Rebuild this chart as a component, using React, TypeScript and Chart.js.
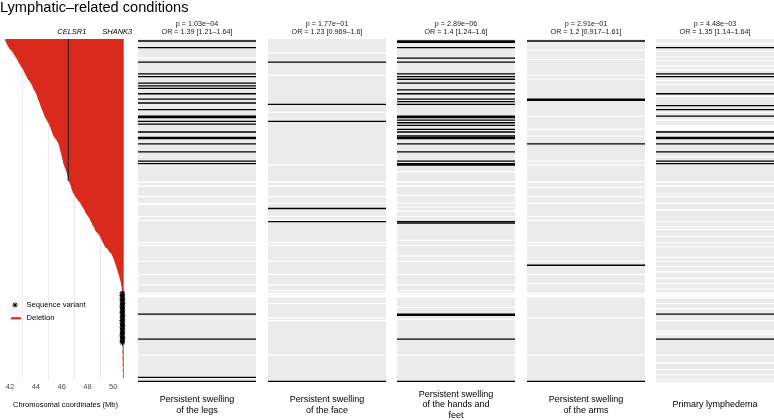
import React, { useEffect, useRef } from 'react';
import { Chart, registerables } from 'chart.js';
Chart.register(...registerables);

const FONT = '"Liberation Sans", Arial, Helvetica, sans-serif';
Chart.defaults.font.family = FONT;

// ---------- data ----------
const N_ROWS = 260;

// Terminal 22q13 deletions (start, Mb), sorted by size; all extend to chromosome end
const DELETION_START = [
  41.62, 41.66, 41.70, 41.74, 41.80, 41.86, 41.92, 41.98, 42.10, 42.18,
  42.26, 42.30, 42.36, 42.43, 42.50, 42.55, 42.62, 42.66, 42.72, 42.78,
  42.85, 42.92, 42.98, 43.03, 43.07, 43.12, 43.18, 43.22, 43.28, 43.33,
  43.40, 43.46, 43.55, 43.62, 43.68, 43.72, 43.76, 43.80, 43.86, 43.92,
  43.98, 44.03, 44.07, 44.10, 44.12, 44.16, 44.21, 44.25, 44.29, 44.32,
  44.36, 44.40, 44.43, 44.46, 44.52, 44.56, 44.60, 44.63, 44.67, 44.71,
  44.78, 44.85, 44.90, 44.96, 45.01, 45.05, 45.10, 45.13, 45.16, 45.20,
  45.24, 45.28, 45.32, 45.36, 45.42, 45.50, 45.58, 45.64, 45.70, 45.75,
  45.78, 45.81, 45.83, 45.86, 45.88, 45.91, 45.94, 45.97, 45.99, 46.02,
  46.04, 46.06, 46.09, 46.11, 46.13, 46.16, 46.20, 46.24, 46.28, 46.32,
  46.36, 46.39, 46.41, 46.44, 46.46, 46.48, 46.50, 46.52, 46.56, 46.62,
  46.66, 46.70, 46.73, 46.76, 46.78, 46.82, 46.86, 46.92, 46.98, 47.04,
  47.10, 47.18, 47.26, 47.33, 47.43, 47.49, 47.55, 47.60, 47.66, 47.74,
  47.78, 47.81, 47.87, 47.94, 48.02, 48.09, 48.15, 48.20, 48.25, 48.30,
  48.35, 48.40, 48.46, 48.52, 48.56, 48.59, 48.66, 48.76, 48.86, 48.92,
  48.98, 49.03, 49.08, 49.13, 49.18, 49.23, 49.28, 49.33, 49.40, 49.52,
  49.60, 49.68, 49.76, 49.84, 49.90, 49.95, 49.99, 50.03, 50.07, 50.11,
  50.14, 50.17, 50.20, 50.24, 50.27, 50.30, 50.33, 50.37, 50.40, 50.43,
  50.46, 50.49, 50.51, 50.54, 50.56, 50.58, 50.60, 50.62, 50.64, 50.66,
  50.68, 50.69, 50.70,
];
// Sequence variants (position, Mb)
const VARIANT_POS = [
  50.70, 50.72, 50.68, 50.71, 50.73, 50.69, 50.72, 50.70, 50.74, 50.71,
  50.68, 50.72, 50.70, 50.73, 50.71, 50.69, 50.72, 50.74, 50.70, 50.71,
  50.73, 50.68, 50.72, 50.70, 50.71, 50.74, 50.69, 50.72, 50.70, 50.73,
  50.71, 50.72, 50.68, 50.70, 50.73, 50.71, 50.72, 50.69, 50.71,
];
// Small terminal deletions (start, Mb)
const SMALL_DELETION_START = [
  50.70, 50.72, 50.71, 50.73, 50.74, 50.72, 50.70, 50.73, 50.75, 50.74,
  50.72, 50.71, 50.73, 50.74, 50.75, 50.73, 50.72, 50.74, 50.76, 50.75,
  50.73, 50.74, 50.75, 50.76, 50.74, 50.75, 50.76, 50.77,
];
const CHROM_END = 50.81;
const CELSR1_MB = 46.52;
const SHANK3_MB = 50.70;
const X_TICKS = [42, 43, 44, 45, 46, 47, 48, 49, 50];
const X_TICK_LABELS = [42, 44, 46, 48, 50];

const CONDITION_LABELS = [
  ['Persistent swelling', 'of the legs'],
  ['Persistent swelling', 'of the face'],
  ['Persistent swelling', 'of the hands and', 'feet'],
  ['Persistent swelling', 'of the arms'],
  ['Primary lymphedema'],
];
const P_VALUES = ['1.03e\u221204', '1.77e\u221201', '2.89e\u221206', '2.91e\u221201', '4.48e\u221203'];
const ODDS_RATIOS = ['1.39 [1.21\u20131.64]', '1.23 [0.969\u20131.6]', '1.4 [1.24\u20131.6]', '1.2 [0.917\u20131.61]', '1.35 [1.14\u20131.64]'];

// patient rows (0 = top) with the condition present
const AFFECTED_LEGS = [1, 6, 17, 26, 28, 33, 35, 37, 41, 45, 48, 53, 58, 59, 62, 64, 70, 74, 75, 79, 85, 92, 94, 208, 227, 256, 259];
const AFFECTED_FACE = [17, 49, 62, 128, 138, 259];
const AFFECTED_HANDS_FEET = [1, 2, 6, 14, 17, 26, 28, 30, 33, 38, 41, 45, 47, 49, 58, 59, 61, 63, 65, 68, 70, 73, 74, 75, 79, 85, 92, 94, 95, 138, 139, 208, 209, 227, 259];
const AFFECTED_ARMS = [1, 45, 46, 79, 171, 259];
const AFFECTED_PRIMARY = [6, 26, 28, 41, 50, 53, 58, 70, 74, 75, 79, 85, 92, 94, 208, 227];

// patient rows with missing information
const MISSING_LEGS = [14, 95, 108, 111, 119, 124, 125, 134, 137, 154, 156, 168, 178, 186, 192, 193, 194, 195, 211, 239];
const MISSING_FACE = [10, 27, 55, 95, 108, 111, 119, 124, 134, 137, 154, 156, 168, 178, 186, 190, 192, 193, 194, 195, 200, 211, 213, 239];
const MISSING_HANDS_FEET = [100, 108, 111, 118, 124, 127, 130, 134, 152, 156, 164, 168, 178, 186, 190, 192, 193, 194, 195, 203, 212, 239];
const MISSING_ARMS = [8, 15, 27, 30, 58, 68, 73, 92, 95, 108, 112, 119, 124, 134, 137, 154, 156, 168, 178, 185, 192, 193, 194, 195, 211, 239];
const MISSING_PRIMARY = [3, 9, 13, 16, 20, 23, 31, 34, 43, 55, 61, 65, 66, 67, 68, 89, 108, 111, 117, 119, 124, 129, 138, 142, 144, 149, 154, 157, 165, 168, 172, 176, 181, 185, 189, 192, 193, 194, 195, 196, 200, 204, 213, 221, 223, 239, 245, 250, 254, 258];

const AFFECTED = [AFFECTED_LEGS, AFFECTED_FACE, AFFECTED_HANDS_FEET, AFFECTED_ARMS, AFFECTED_PRIMARY];
const MISSING = [MISSING_LEGS, MISSING_FACE, MISSING_HANDS_FEET, MISSING_ARMS, MISSING_PRIMARY];

// ---------- layout ----------
const PLOT_TOP = 39;
const PLOT_BOTTOM = 382;
const H = 420;
const PANEL_LEFT = [138, 268, 397, 527, 656];
const PANEL_W = 118;
const LEFT_W = 136;
const RED = '#DA2A1C';

function leftConfig(): any {
  const nTop = DELETION_START.length;
  const nVar = VARIANT_POS.length;
  const deletionSegments = [
    ...DELETION_START.map((s, i) => [s, i]),
    ...SMALL_DELETION_START.map((s, i) => [s, nTop + nVar + i]),
  ].flatMap(([s, r]) => [{ x: s, y: r + 0.5 }, { x: CHROM_END, y: r + 0.5 }, { x: null, y: null }]);
  const variants = VARIANT_POS.map((p, i) => ({ x: p, y: nTop + i + 0.5 }));
  let lastCover = 0;
  DELETION_START.forEach((s, i) => { if (s <= CELSR1_MB) lastCover = i + 1; });

  const overlay = {
    id: 'leftOverlay',
    afterDraw(chart: any) {
      const { ctx, chartArea: a } = chart;
      const xs = chart.scales.x;
      ctx.save();
      ctx.fillStyle = '#000';
      ctx.textBaseline = 'middle';
      ctx.textAlign = 'center';
      ctx.font = `italic 7.5px ${FONT}`;
      ctx.fillText('CELSR1', xs.getPixelForValue(CELSR1_MB) + 3.5, a.top - 7);
      ctx.fillText('SHANK3', xs.getPixelForValue(SHANK3_MB) - 5, a.top - 7);
      // legend
      const lx = 15, ly1 = 305, ly2 = 318.3, r = 2.6;
      ctx.strokeStyle = '#000';
      ctx.lineWidth = 1;
      ctx.beginPath();
      ctx.moveTo(lx - r, ly1); ctx.lineTo(lx + r, ly1);
      ctx.moveTo(lx, ly1 - r); ctx.lineTo(lx, ly1 + r);
      const d = r * 0.7071;
      ctx.moveTo(lx - d, ly1 - d); ctx.lineTo(lx + d, ly1 + d);
      ctx.moveTo(lx - d, ly1 + d); ctx.lineTo(lx + d, ly1 - d);
      ctx.stroke();
      ctx.strokeStyle = RED;
      ctx.lineWidth = 2.2;
      ctx.beginPath();
      ctx.moveTo(11, ly2); ctx.lineTo(21, ly2);
      ctx.stroke();
      ctx.font = `7.6px ${FONT}`;
      ctx.textAlign = 'left';
      ctx.fillText('Sequence variant', 26.5, ly1);
      ctx.fillText('Deletion', 26.5, ly2);
      ctx.restore();
    },
  };

  return {
    type: 'scatter',
    data: {
      datasets: [
        { label: 'Sequence variant', data: variants, pointStyle: 'star', pointRadius: 2.6, borderColor: '#000', backgroundColor: '#000', borderWidth: 1, order: 1 },
        { label: 'CELSR1', data: [{ x: CELSR1_MB, y: 0 }, { x: CELSR1_MB, y: lastCover }], showLine: true, borderColor: '#3a2a2a', borderWidth: 0.8, pointRadius: 0, order: 2 },
        { label: 'Deletion', data: deletionSegments, showLine: true, spanGaps: false, borderColor: RED, borderWidth: 2, borderCapStyle: 'butt', pointRadius: 0, order: 3 },
      ],
    },
    options: {
      responsive: false,
      animation: false,
      devicePixelRatio: 1,
      layout: { autoPadding: false, padding: { left: 3.55, right: LEFT_W - 127.45, top: PLOT_TOP, bottom: 0 } },
      plugins: { legend: { display: false }, tooltip: { enabled: false }, title: { display: false } },
      scales: {
        x: {
          type: 'linear', position: 'bottom', min: 41.5, max: 51.1, offset: false,
          afterBuildTicks: (s: any) => { s.ticks = X_TICKS.map((v) => ({ value: v })); },
          ticks: {
            autoSkip: false, maxRotation: 0, padding: 1.8, color: '#4D4D4D',
            font: { size: 7.5, lineHeight: 1.2 },
            callback: (v: any) => (X_TICK_LABELS.includes(Number(v)) ? String(v) : ''),
          },
          grid: {
            offset: false, drawTicks: false, lineWidth: 0.8,
            color: (c: any) => (c.tick && !X_TICK_LABELS.includes(c.tick.value) ? '#E6E6E6' : 'rgba(0,0,0,0)'),
          },
          border: { display: false },
          title: { display: true, text: 'Chromosomal coordinates (Mb)', color: '#000', font: { size: 7.5, lineHeight: 1.2 }, padding: { top: 8, bottom: 10.2 } },
        },
        y: { type: 'linear', display: false, offset: false, min: 0, max: N_ROWS, reverse: true },
      },
    },
    plugins: [overlay],
  };
}

const rowSegments = (rows: number[]) =>
  rows.flatMap((r) => [{ x: 0, y: r + 0.5 }, { x: 1, y: r + 0.5 }, { x: null, y: null }]);

function panelConfig(i: number): any {
  const lines = CONDITION_LABELS[i];
  const L = 9 * 1.2;
  const pb = 15 - (L * lines.length) / 2;
  const pt = (H - PLOT_BOTTOM) - lines.length * L - pb;
  const TL = 7.2 * 1.15;
  const tTop = 24 - TL / 2;
  const tBottom = PLOT_TOP - tTop - 2 * TL;
  const bg = {
    id: 'panelBg',
    beforeDatasetsDraw(chart: any) {
      const { ctx, chartArea: a } = chart;
      ctx.save();
      ctx.fillStyle = '#EBEBEB';
      ctx.fillRect(a.left, a.top, a.right - a.left, a.bottom - a.top);
      ctx.restore();
    },
  };
  return {
    type: 'scatter',
    data: {
      datasets: [
        { label: 'Affected', data: rowSegments(AFFECTED[i]), showLine: true, borderColor: '#000', borderWidth: 1.3, pointRadius: 0, borderCapStyle: 'butt', spanGaps: false, order: 1 },
        { label: 'Missing', data: rowSegments(MISSING[i]), showLine: true, borderColor: '#FFFFFF', borderWidth: 1.1, pointRadius: 0, borderCapStyle: 'butt', spanGaps: false, order: 2 },
      ],
    },
    options: {
      responsive: false,
      animation: false,
      devicePixelRatio: 1,
      layout: { autoPadding: false, padding: 0 },
      plugins: {
        legend: { display: false },
        tooltip: { enabled: false },
        title: {
          display: true,
          text: [`p = ${P_VALUES[i]}`, `OR = ${ODDS_RATIOS[i]}`],
          color: '#1A1A1A',
          font: { size: 7.2, lineHeight: 1.15, weight: 'normal' },
          padding: { top: tTop, bottom: tBottom },
        },
      },
      scales: {
        x: {
          type: 'linear', min: 0, max: 1, position: 'bottom',
          ticks: { display: false },
          grid: { display: false, drawTicks: false },
          border: { display: false },
          title: { display: true, text: lines, color: '#000', font: { size: 9, lineHeight: 1.2 }, padding: { top: pt, bottom: pb } },
        },
        y: { type: 'linear', display: false, min: 0, max: N_ROWS, reverse: true },
      },
    },
    plugins: [bg],
  };
}

function ChartBox({ left, width, makeConfig }: { left: number; width: number; makeConfig: () => any }) {
  const ref = useRef<HTMLCanvasElement | null>(null);
  useEffect(() => {
    if (!ref.current) return;
    const chart = new Chart(ref.current, makeConfig());
    return () => chart.destroy();
  }, []);
  return (
    <canvas
      ref={ref}
      width={width}
      height={H}
      style={{ position: 'absolute', left, top: 0, width, height: H, display: 'block' }}
    />
  );
}

export default function App() {
  useEffect(() => {
    document.body.style.margin = '0';
  }, []);
  return (
    <div style={{ position: 'fixed', left: 0, top: 0, width: 774, height: H, overflow: 'hidden', background: '#fff' }}>
      <ChartBox left={0} width={LEFT_W} makeConfig={leftConfig} />
      {PANEL_LEFT.map((l, i) => (
        <ChartBox key={i} left={l} width={PANEL_W} makeConfig={() => panelConfig(i)} />
      ))}
      <div
        style={{
          position: 'absolute', left: 0, top: 0, fontFamily: FONT, fontSize: 14.6, lineHeight: '15px',
          color: '#000', whiteSpace: 'nowrap',
        }}
      >
        Lymphatic–related conditions
      </div>
    </div>
  );
}
